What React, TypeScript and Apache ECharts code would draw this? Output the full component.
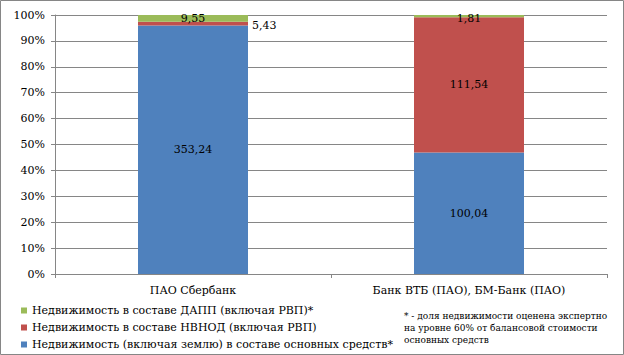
import React, { useEffect, useRef } from "react";
import * as echarts from "echarts";

const categories = ["ПАО Сбербанк", "Банк ВТБ (ПАО), БМ-Банк (ПАО)"];
const seriesNames = [
  "Недвижимость (включая землю) в составе основных средств*",
  "Недвижимость в составе НВНОД (включая РВП)",
  "Недвижимость в составе ДАПП (включая РВП)*",
];
const fixedAssets = [353.24, 100.04];
const nonCoreAssets = [5.43, 111.54];
const heldForSale = [9.55, 1.81];
const colors = ["#4F81BD", "#C0504D", "#9BBB59"];
const yTicks = [0, 10, 20, 30, 40, 50, 60, 70, 80, 90, 100];
const noteLines = [
  "* - доля недвижимости оценена экспертно",
  "на уровне 60% от балансовой стоимости",
  "основных средств",
];

const FONT = "DejaVu Serif";
const GRAY = "#868686";

export default function App() {
  const ref = useRef<HTMLDivElement>(null);
  useEffect(() => {
    if (!ref.current) return;
    const chart = echarts.init(ref.current, undefined, { renderer: "svg" });
    const raw = [fixedAssets, nonCoreAssets, heldForSale];
    const totals = categories.map((_, i) => raw.reduce((s, arr) => s + arr[i], 0));
    const fmt = (v: number) => v.toFixed(2).replace(".", ",");

    const series = raw.map((arr, si) => ({
      name: seriesNames[si],
      type: "bar",
      stack: "total",
      barWidth: 110,
      itemStyle: { color: colors[si] },
      label: {
        show: true,
        position: "inside",
        color: "#000",
        fontFamily: FONT,
        fontSize: 11,
        formatter: (p: any) => fmt(arr[p.dataIndex]),
      },
      data: arr.map((v, i) => {
        const item: any = { value: (v / totals[i]) * 100 };
        if (si === 1 && i === 0) {
          item.label = { position: "right", distance: 4, offset: [0, 2] };
        }
        if (si === 2 && i === 1) {
          item.label = { offset: [0, 2] };
        }
        return item;
      }),
    }));

    chart.setOption({
      animation: false,
      textStyle: { fontFamily: FONT },
      grid: { left: 55, right: 17, top: 15, bottom: 81 },
      xAxis: {
        type: "category",
        data: categories,
        axisLine: { show: true, lineStyle: { color: GRAY, width: 1 } },
        axisTick: { show: true, length: 4, lineStyle: { color: GRAY } },
        axisLabel: { color: "#000", fontFamily: FONT, fontSize: 11, margin: 11 },
      },
      yAxis: {
        type: "value",
        min: yTicks[0],
        max: yTicks[yTicks.length - 1],
        interval: yTicks[1] - yTicks[0],
        axisLine: { show: true, lineStyle: { color: GRAY, width: 1 } },
        axisTick: { show: true, length: 4, lineStyle: { color: GRAY } },
        splitLine: { show: true, lineStyle: { color: GRAY, width: 1 } },
        axisLabel: {
          color: "#000",
          fontFamily: FONT,
          fontSize: 11,
          margin: 10,
          formatter: "{value}%",
        },
      },
      legend: {
        orient: "vertical",
        left: 21,
        top: 305,
        padding: 0,
        itemWidth: 6,
        itemHeight: 6,
        itemGap: 6,
        icon: "rect",
        data: [seriesNames[2], seriesNames[1], seriesNames[0]],
        textStyle: { color: "#000", fontFamily: FONT, fontSize: 11 },
      },
      graphic: [
        {
          type: "rect",
          shape: { x: 0.5, y: 0.5, width: 623, height: 354 },
          style: { fill: "none", stroke: GRAY, lineWidth: 1 },
          silent: true,
        },
        ...noteLines.map((t, i) => ({
          type: "text",
          x: 404,
          y: 311 + i * 12,
          style: { text: t, fill: "#000", font: "9px 'DejaVu Serif'" },
        })),
      ],
      series,
    });
    return () => chart.dispose();
  }, []);
  return (
    <div
      ref={ref}
      style={{ position: "fixed", left: 0, top: 0, width: 624, height: 355, background: "#fff" }}
    />
  );
}
